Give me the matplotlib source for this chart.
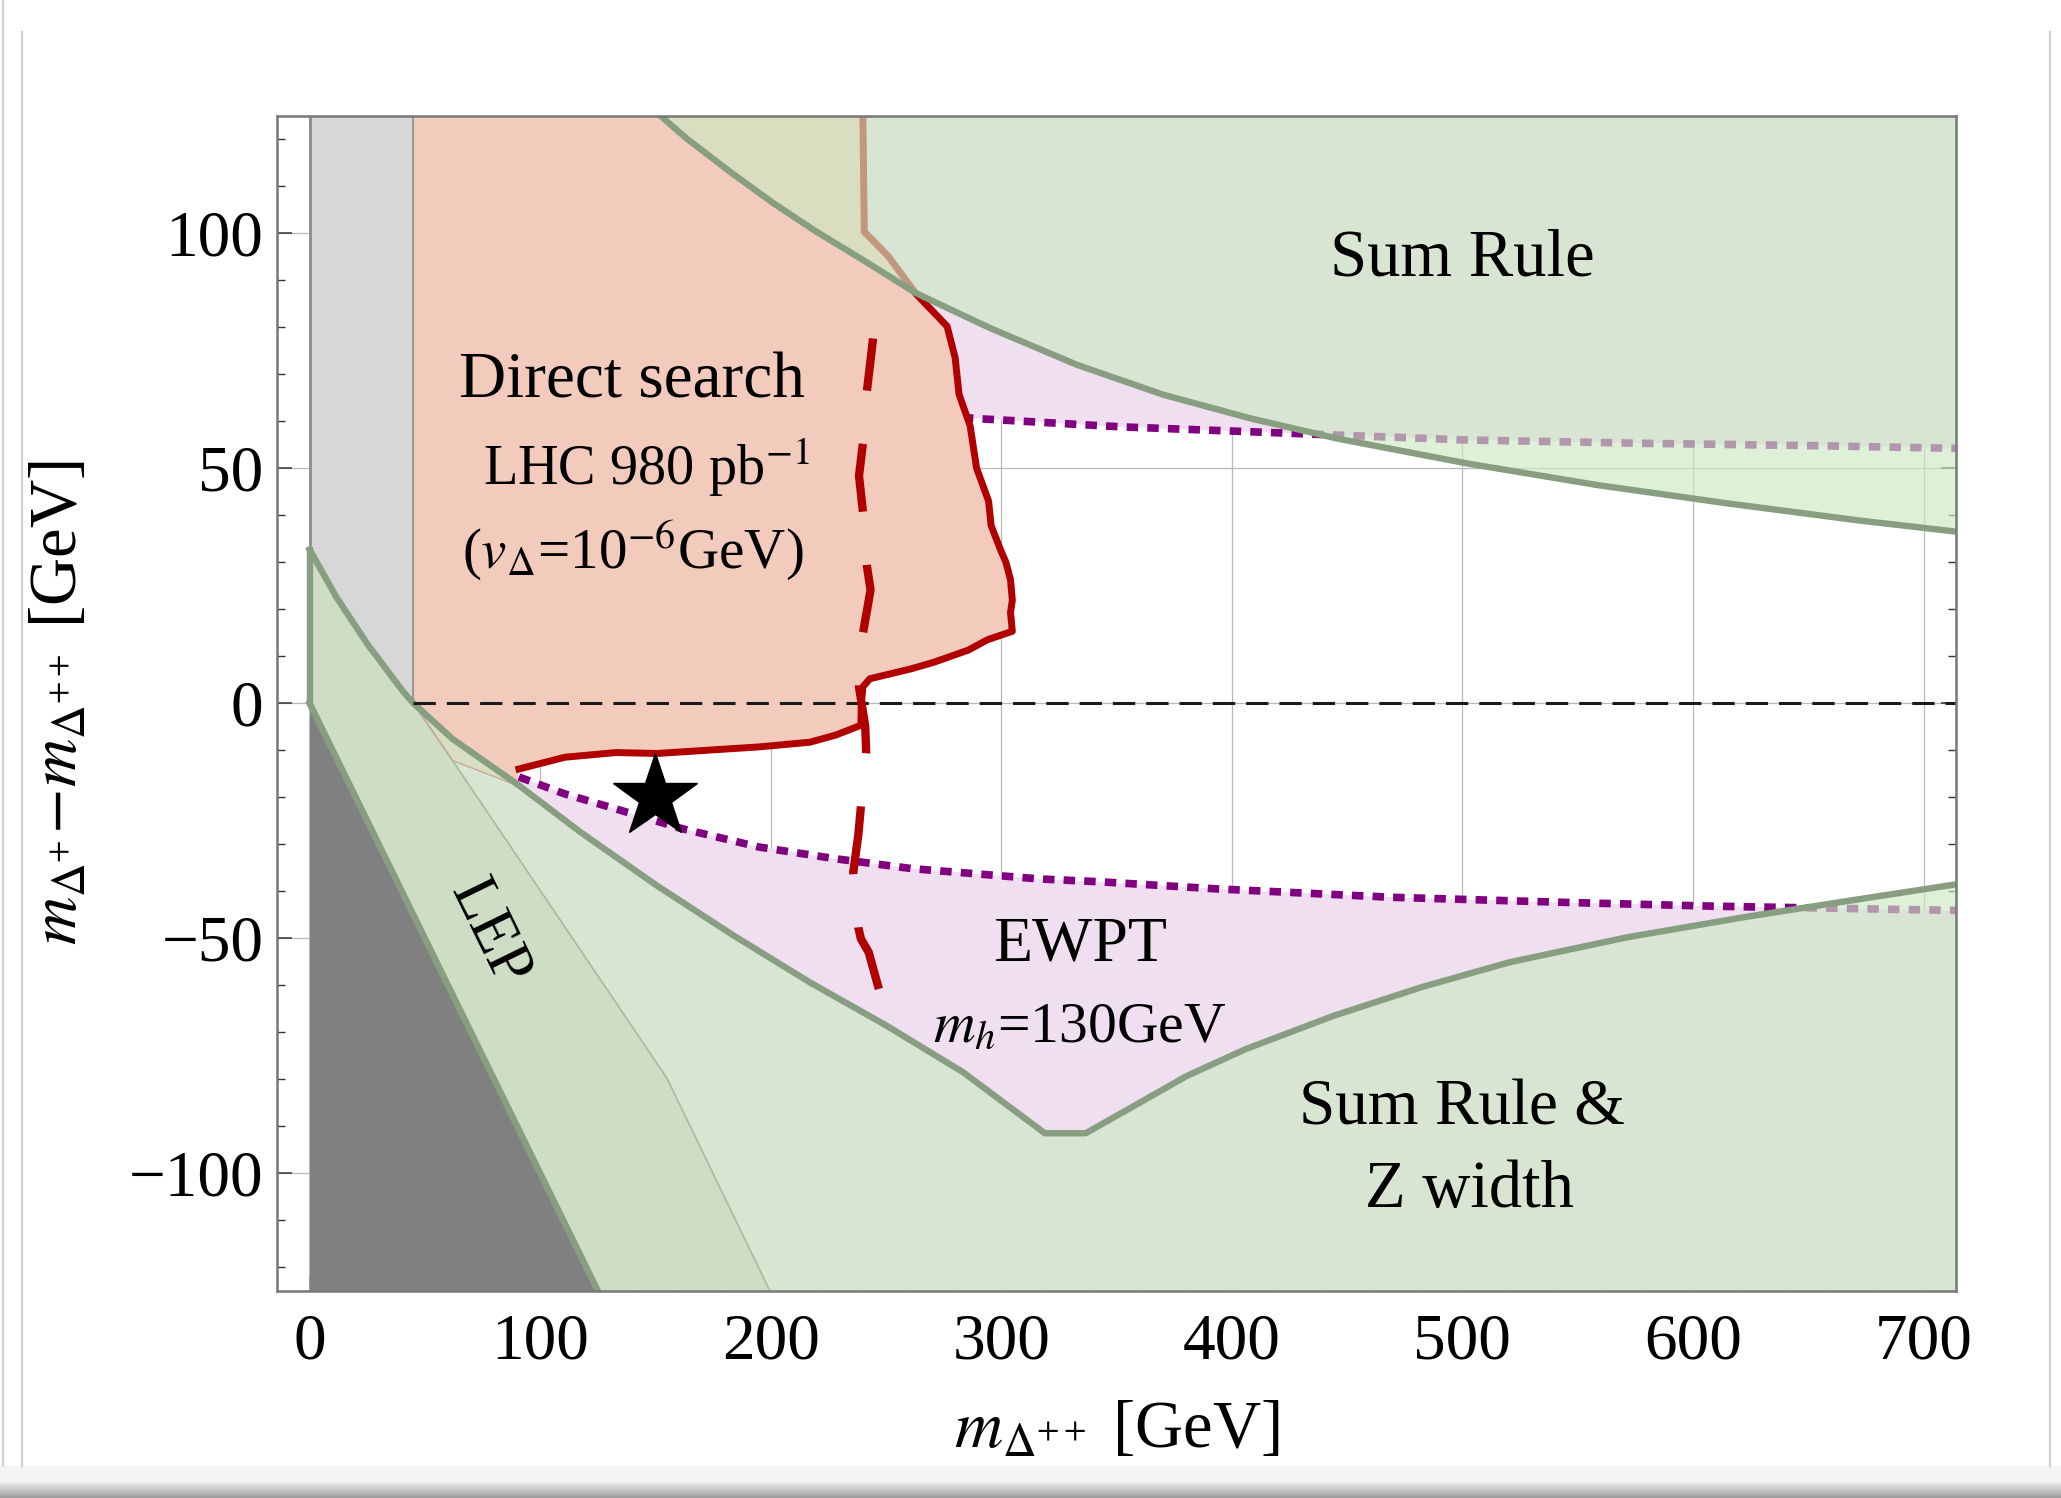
import numpy as np
import matplotlib
matplotlib.use("Agg")
import matplotlib.pyplot as plt
from matplotlib.lines import Line2D

plt.rcParams['font.family'] = ['Liberation Serif', 'DejaVu Serif']
plt.rcParams['mathtext.fontset'] = 'stix'

W, H = 2061, 1498

# sum rule bound (upper edge of the top green region)
sr_up_x = [148.4, 163.4, 182.3, 201.1, 219.9, 238.7, 263.2, 295.2, 332.8, 370.5, 408.1,
           445.8, 502.2, 558.7, 615.2, 671.6, 716]
sr_up_y = [126.6, 120.2, 113.1, 106.4, 100.3, 94.7, 87.2, 79.8, 72.0, 65.6, 60.6,
           56.3, 51.0, 46.4, 42.5, 38.9, 36.4]

# sum rule & Z width bound (lower green region)
sr_lo_x = [0, 11.6, 25.2, 40.7, 45, 62, 90.8, 117.4, 150.6, 183.8, 217, 250.2, 283.4,
           318.9, 336.6, 355, 380.5, 406, 444.2, 482.4, 520.6, 571.5, 622.5, 673.4, 716]
sr_lo_y = [32.7, 22.6, 12.5, 2.4, 0, -7.6, -17.5, -27.4, -38.8, -49.4, -59.4, -68.6, -78.5,
           -91.5, -91.5, -86.4, -79.3, -73.6, -66.5, -60.4, -55.1, -49.8, -45.5, -41.6, -38.4]

# LEP: inner edge of the band and the m_D+ = 0 edge
lep_x = [45, 62, 155, 199.6]
lep_y = [0, -12.2, -79.8, -125]
mp0_x = [0, 125]
mp0_y = [0, -125]

# EWPT (m_h = 130 GeV) contours
ewpt_up_x = [283, 287.7, 351.7, 427, 502.2, 577.5, 652.8, 716]
ewpt_up_y = [61.0, 60.6, 58.8, 57.4, 56.0, 55.3, 54.8, 54.2]
ewpt_lo_x = [90.8, 110.7, 132.9, 161.6, 194.9, 228.1, 261.3, 316.8, 342.8, 393.2, 469.6,
             546.0, 609.7, 716.2]
ewpt_lo_y = [-15.7, -19.3, -22.5, -26.7, -30.6, -33.1, -35.2, -37.4, -38.0, -39.5, -41.3,
             -42.4, -43.2, -44.1]

# LHC direct search, 980 pb^-1 (solid) and the dashed contour
ds_lo_x = [45, 62, 90]
ds_lo_y = [0, -12.2, -17.5]
ds_x = [90.8, 110.7, 132.9, 150.6, 172.7, 194.9, 217, 228.1, 239.1, 239.3, 240, 243,
        260.8, 270.7, 285.7, 294, 304.8, 304, 304.8, 304, 302, 299.8, 295.6, 294.5, 289.3,
        286.5, 281.7, 280, 276.5, 263.2, 250.8, 240.6, 240.3, 240]
ds_y = [-14, -11.5, -10.5, -10.7, -10.0, -9.3, -8.3, -6.8, -4.7, 0, 3.5, 5.2,
        7.3, 8.7, 11.3, 13.5, 15.3, 19.3, 21.9, 26.3, 30, 32.5, 37.8, 43, 50,
        59, 65.7, 73.5, 80.2, 87, 95.2, 100.3, 112, 125]
dash_x = [244.4, 241.7, 240.5, 240, 238.3, 240, 240.8, 241.7, 243.3, 240, 238.8, 238.3,
          239.2, 241, 241.4, 240, 239.1, 238, 235.8, 236.8, 238, 239.1, 242.5, 246.9]
dash_y = [77.6, 66.3, 60, 55.3, 48.4, 40.7, 35, 29.3, 24.1, 14.8, 8, 3.4,
          0.7, -5, -10.4, -17, -22.1, -28, -36, -42, -47.7, -50.1, -53, -60.8]

star_x, star_y = 150, -20

green_edge = '#879e80'
green_fill = '#cee9c4'
red = '#b00000'
purple = '#800080'

fig = plt.figure(figsize=(W / 100, H / 100), dpi=100)
ax = fig.add_axes([277.3 / W, 1 - 1290.7 / H, 1678.5 / W, 1175 / H])

ax.set_xlim(-14, 714)
ax.set_ylim(-125, 125)

# grid
ax.set_xticks(np.arange(0, 701, 100))
ax.set_yticks(np.arange(-100, 101, 50))
ax.set_xticks(np.arange(-0, 714, 20), minor=True)
ax.set_yticks(np.arange(-120, 121, 10), minor=True)
ax.grid(True, which='major', color='#b8b8b8', lw=0.9, zorder=0.5)
ax.set_axisbelow(True)

# EWPT excluded (pink)
ax.fill(ewpt_up_x + [716, 45, 45], ewpt_up_y + [130, 130, ewpt_up_y[0]],
        color='#f0dff0', lw=0, zorder=1)
ax.fill(ewpt_lo_x + [716, 0, 0], ewpt_lo_y + [-125, -125, 32.7],
        color='#f0dff0', lw=0, zorder=1)
ax.plot(ewpt_up_x, ewpt_up_y, color=purple, lw=5.5, ls=(0, (1.5, 1.2)),
        dash_capstyle='butt', zorder=2)
ax.plot(ewpt_lo_x, ewpt_lo_y, color=purple, lw=5.5, ls=(0, (1.5, 1.2)),
        dash_capstyle='butt', zorder=2)

# direct search (salmon)
ax.fill([45] + ds_lo_x + ds_x + [45], [125] + ds_lo_y + ds_y + [125],
        color='#f2cbbd', lw=0, zorder=3)
ax.plot(ds_x, ds_y, color=red, lw=5, zorder=4)

# light gray band
lo_x = np.array(sr_lo_x)
lo_y = np.array(sr_lo_y)
left = lo_x <= 45
ax.fill(np.r_[0, 45, lo_x[left][::-1]], np.r_[125, 125, lo_y[left][::-1]],
        color='#d7d7d7', lw=0, zorder=4)
ax.plot([45, 45], [0, 125], color='#8c8c8c', lw=1.2, zorder=4.5)
ax.plot([0, 0], [32.7, 125], color='#8c8c8c', lw=2, zorder=4.5)

# sum rule regions (translucent green)
ax.fill(sr_up_x + [716], sr_up_y + [130], color=green_fill, alpha=0.65, lw=0, zorder=5)
ax.fill(sr_lo_x + [716, 0], sr_lo_y + [-125, -125], color=green_fill, alpha=0.65,
        lw=0, zorder=5)

# LEP
ax.fill(sr_lo_x[:5] + lep_x[1:] + [0], sr_lo_y[:5] + lep_y[1:] + [-125],
        color='#bdd5b2', alpha=0.4, lw=0, zorder=6)
ax.plot(lep_x, lep_y, color='#a9bda2', lw=1.3, zorder=6.5)
ax.plot(ds_lo_x, ds_lo_y, color='#c8a8a0', lw=1.0, zorder=6.5)
ax.fill(mp0_x + [0], mp0_y + [-125], color='#808080', lw=0, zorder=7)

# boundaries
ax.plot(sr_up_x, sr_up_y, color=green_edge, lw=4.6, zorder=8)
ax.plot(sr_lo_x, sr_lo_y, color=green_edge, lw=4.6, zorder=8)
ax.plot(mp0_x, mp0_y, color=green_edge, lw=4.6, zorder=8)
ax.plot([0, 0], [0, 32.7], color=green_edge, lw=4.6, zorder=8)

ax.plot([45, 714], [0, 0], color='#1a1a1a', lw=2.2, ls=(0, (7.3, 3.6)), zorder=9)
ax.plot(dash_x, dash_y, color=red, lw=6, ls=(1.9, (8.2, 6.4)), dash_capstyle='butt',
        zorder=9)

ax.plot(star_x, star_y, marker='*', ms=63, color='black', zorder=10)

# labels inside the plot
tk = dict(ha='center', va='center', zorder=11)
ax.text(500, 94.6, 'Sum Rule', fontsize=48, **tk)
ax.text(140, 68.3, 'Direct search', fontsize=47, **tk)
ax.text(146, 50.2, r'LHC 980 pb$^{-1}$', fontsize=40.5, **tk)
ax.text(140, 32.5, r'($v_{\Delta}$=10$^{-6}$GeV)', fontsize=41, **tk)
ax.text(334, -51.5, 'EWPT', fontsize=46, **tk)
ax.text(334, -69.1, r'$m_h$=130GeV', fontsize=41.5, **tk)
ax.text(500, -86.2, 'Sum Rule &', fontsize=47, **tk)
ax.text(503, -103.6, 'Z width', fontsize=48, **tk)
ax.text(77.5, -49, 'LEP', fontsize=45, rotation=-64, rotation_mode='anchor', **tk)

# axes styling
for s in ax.spines.values():
    s.set_color('#777777')
    s.set_linewidth(1.8)
    s.set_zorder(12)
ax.tick_params(which='both', direction='in', top=True, right=True, color='#333333')
ax.tick_params(which='major', length=11, width=1.1, labelsize=47)
ax.tick_params(which='minor', length=6, width=1.0)
ax.tick_params(axis='x', pad=16)
ax.tick_params(axis='y', pad=10)

ax.set_xlabel(r'$m_{\Delta^{++}}$ [GeV]', fontsize=48)
ax.xaxis.set_label_coords(0.5, -0.1186)
ax.xaxis.label.set_va('center')
ax.set_ylabel(r'$m_{\Delta^{+}}\!-\!m_{\Delta^{++}}$ [GeV]', fontsize=48)
ax.yaxis.set_label_coords(-0.130, 0.5)
ax.yaxis.label.set_va('center')

# window frame and shadow
for x0, c in [(3, '#d4d4d4'), (22, '#cfcfcf'), (2050, '#cfcfcf')]:
    y_top = 1.0 if x0 == 3 else 1 - 32 / H
    fig.add_artist(Line2D([x0 / W, x0 / W], [1 - 1466 / H, y_top],
                          transform=fig.transFigure, color=c, lw=1.6))
sh = fig.add_axes([0, 0, 1, 32 / H])
grad = np.r_[np.full(16, 0.96), np.linspace(0.93, 0.62, 16)].reshape(-1, 1)
sh.imshow(grad, aspect='auto', cmap='gray', vmin=0, vmax=1, interpolation='bilinear')
sh.set_axis_off()

fig.savefig('out.png', dpi=100, facecolor='white')
